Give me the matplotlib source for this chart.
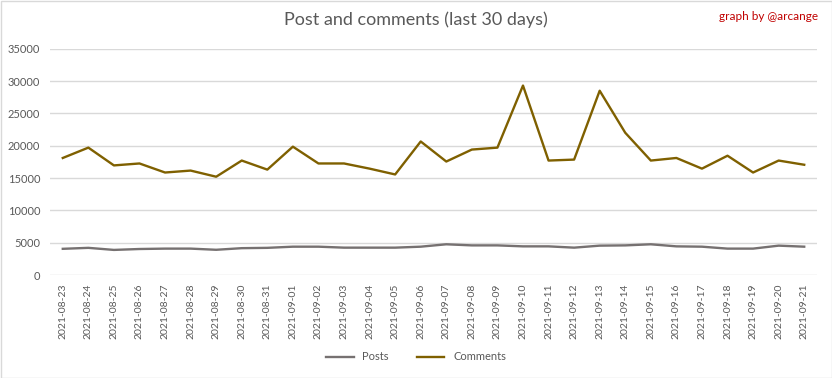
import matplotlib
matplotlib.use('Agg')
import matplotlib.pyplot as plt
import numpy as np

plt.rcParams['font.family'] = ['Lato', 'DejaVu Sans']

dates = ['2021-08-23', '2021-08-24', '2021-08-25', '2021-08-26', '2021-08-27', '2021-08-28',
         '2021-08-29', '2021-08-30', '2021-08-31', '2021-09-01', '2021-09-02', '2021-09-03',
         '2021-09-04', '2021-09-05', '2021-09-06', '2021-09-07', '2021-09-08', '2021-09-09',
         '2021-09-10', '2021-09-11', '2021-09-12', '2021-09-13', '2021-09-14', '2021-09-15',
         '2021-09-16', '2021-09-17', '2021-09-18', '2021-09-19', '2021-09-20', '2021-09-21']
posts = [4050, 4200, 3880, 4020, 4080, 4080, 3900, 4150, 4200, 4380, 4380, 4230,
         4230, 4230, 4380, 4750, 4580, 4580, 4430, 4430, 4230, 4540, 4580, 4750,
         4430, 4380, 4080, 4080, 4540, 4380]
comments = [18100, 19700, 16950, 17250, 15850, 16150, 15200, 17700, 16300, 19850, 17250, 17250,
            16450, 15550, 20650, 17550, 19400, 19700, 29300, 17700, 17850, 28500, 22000, 17700,
            18100, 16450, 18450, 15850, 17700, 17050]

fig = plt.figure(figsize=(8.32, 3.78), dpi=100)
ax = fig.add_axes([50/832, 1-275/378, 767/832, 226.3/378])

x = np.arange(len(dates))
ax.plot(x, posts, color='#767171', lw=1.7, label='Posts')
ax.plot(x, comments, color='#7F6000', lw=1.7, label='Comments')

ax.set_xlim(-0.5, len(dates) - 0.5)
ax.set_ylim(0, 35000)
ax.set_yticks(np.arange(0, 35001, 5000))
ax.set_xticks(x)
ax.set_xticklabels(dates, rotation=90, fontsize=7.5, color='#595959')
ax.tick_params(axis='y', labelsize=8, colors='#595959', length=0, pad=7)
ax.tick_params(axis='x', length=0, pad=6)
ax.grid(axis='y', color='#D9D9D9', lw=1)
ax.set_axisbelow(True)
for s in ax.spines.values():
    s.set_visible(False)

fig.text(0.5, 1-20/378, 'Post and comments (last 30 days)', ha='center', va='center',
         fontsize=13, color='#595959')
fig.text(818/832, 1-16/378, 'graph by @arcange', ha='right', va='center',
         fontsize=8.5, color='#C00000')

fig.legend(loc='center', bbox_to_anchor=(0.5, 1-357/378), ncol=2, frameon=False,
           fontsize=8, labelcolor='#595959', handlelength=2.5, columnspacing=2.5)

fig.patches.append(plt.Rectangle((0.5/832, 0.5/378), 1-1/832, 1-1/378, transform=fig.transFigure,
                                 fill=False, edgecolor='#D9D9D9', lw=1))

fig.savefig('out.png', dpi=100)
